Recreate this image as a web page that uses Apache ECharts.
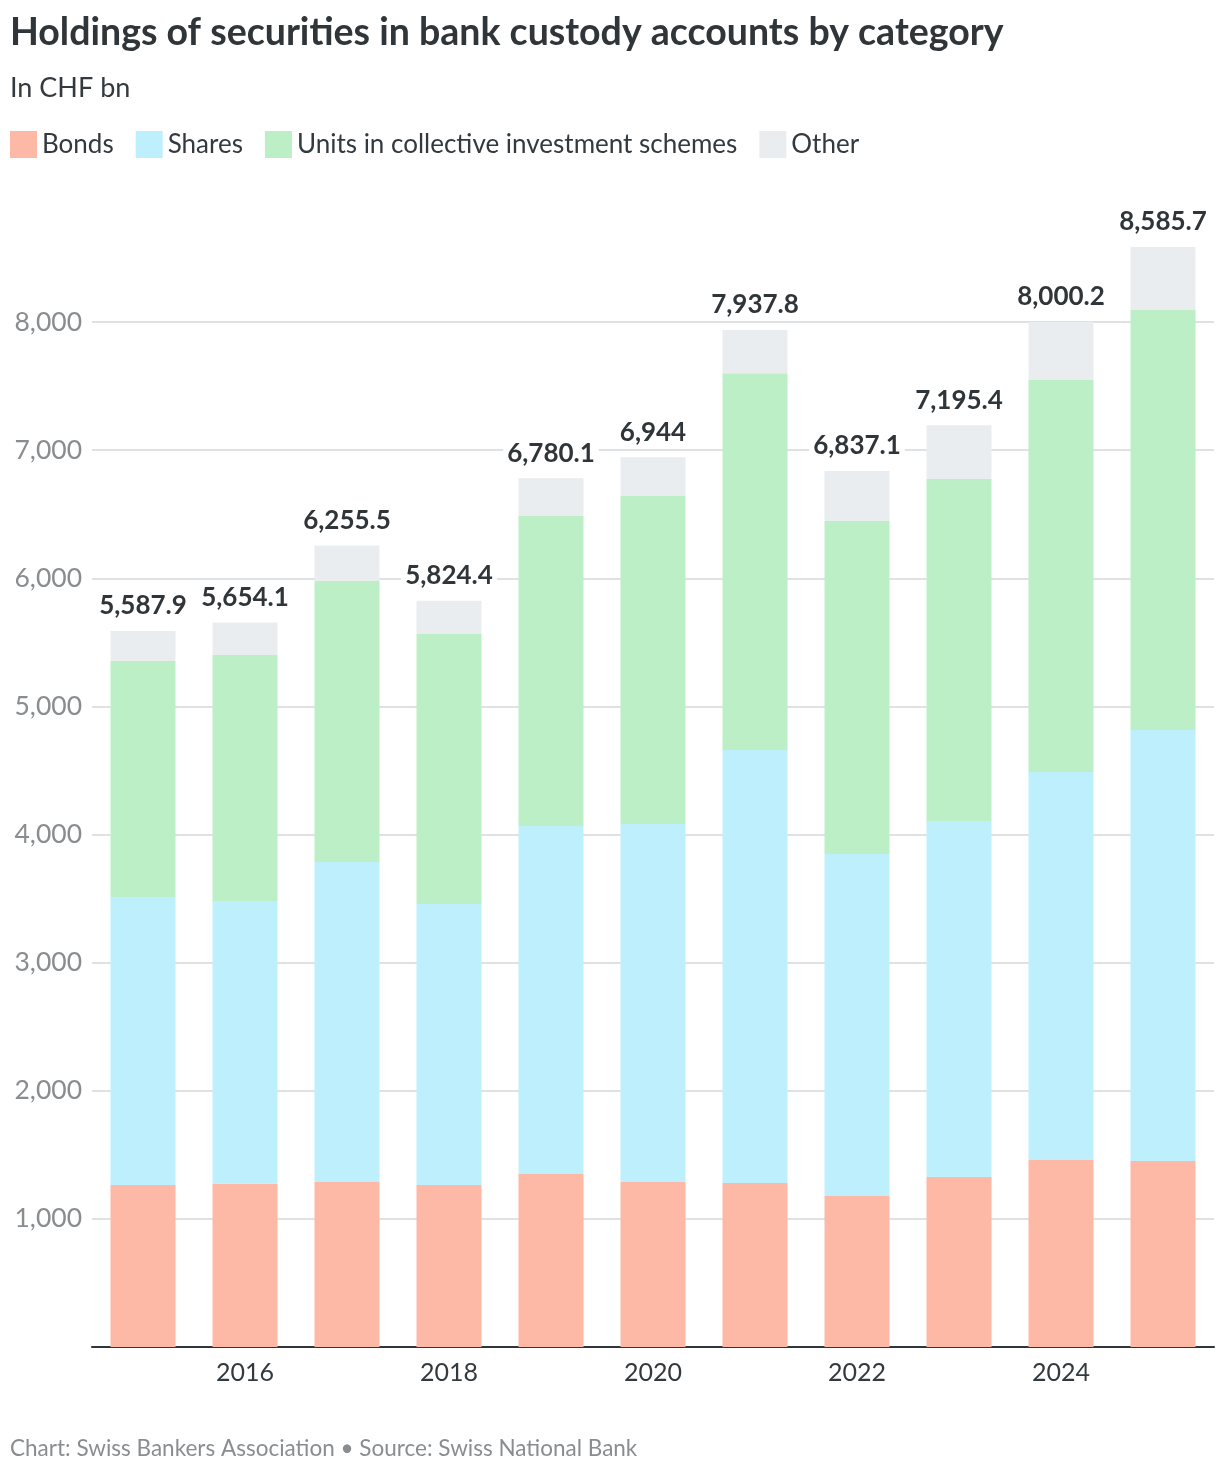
<!DOCTYPE html>
<html>
<head>
<meta charset="utf-8">
<script src="https://cdn.jsdelivr.net/npm/echarts@6/dist/echarts.min.js"></script>
<style>
  html, body { margin: 0; padding: 0; background: #fff; }
  #chart { width: 1220px; height: 1474px; }
</style>
</head>
<body>
<div id="chart"></div>
<script>
// data, CHF bn
const years = ['2015', '2016', '2017', '2018', '2019', '2020', '2021', '2022', '2023', '2024', '2025'];
const bonds = [1264, 1275, 1288, 1264, 1350, 1288, 1280, 1178, 1327, 1460, 1452];
const shares = [2243, 2206, 2497, 2194, 2716, 2794, 3380, 2670, 2778, 3028, 3364];
const units = [1847, 1920, 2194, 2107, 2420, 2560, 2940, 2599, 2670, 3059, 3278];
const other = [234, 253, 277, 259, 294, 302, 338, 390, 420, 453, 492];
const totals = [5587.9, 5654.1, 6255.5, 5824.4, 6780.1, 6944, 7937.8, 6837.1, 7195.4, 8000.2, 8585.7];
const yTicks = [0, 1000, 8000]; // min, step, max

const FONT = 'Lato';
const colors = {
  bonds: '#fdb8a6',
  shares: '#bdeffd',
  units: '#bcefc5',
  other: '#e9edf0'
};

const fmt = v => v.toLocaleString('en-US', { maximumFractionDigits: 1 });

const chart = echarts.init(document.getElementById('chart'), null, { renderer: 'canvas' });

function barSeries(name, data, color, extra) {
  return Object.assign({
    name: name,
    type: 'bar',
    stack: 'total',
    data: data,
    barWidth: 65,
    clip: false,
    itemStyle: { color: color },
    emphasis: { disabled: true }
  }, extra || {});
}

const option = {
  animation: false,
  textStyle: { fontFamily: FONT },
  title: [
    {
      text: 'Holdings of securities in bank custody accounts by category',
      left: 10, top: 14, padding: 0,
      textStyle: { fontFamily: FONT, fontSize: 37.5, fontWeight: 'bold', color: '#2f3538' }
    },
    {
      text: 'In CHF bn',
      left: 10, top: 75, padding: 0,
      textStyle: { fontFamily: FONT, fontSize: 27, fontWeight: 'normal', color: '#333a3f' }
    },
    {
      text: 'Chart: Swiss Bankers Association \u2022 Source: Swiss National Bank',
      left: 10, top: 1437, padding: 0,
      textStyle: { fontFamily: FONT, fontSize: 22.5, fontWeight: 'normal', color: '#8a8d90' }
    }
  ],
  legend: {
    left: 10, top: 131, padding: 0,
    icon: 'rect',
    itemWidth: 27, itemHeight: 27,
    itemGap: 22,
    selectedMode: false,
    textStyle: { fontFamily: FONT, fontSize: 26, color: '#333a3f' },
    data: ['Bonds', 'Shares', 'Units in collective investment schemes', 'Other']
  },
  grid: {
    left: 92, right: 6, top: 322, bottom: 127,
    containLabel: false
  },
  xAxis: {
    type: 'category',
    data: years,
    axisLine: { lineStyle: { color: '#2f3538', width: 2 } },
    axisTick: { show: false },
    axisLabel: {
      interval: i => i % 2 === 1,
      margin: 13,
      fontFamily: FONT, fontSize: 25, color: '#333a3f'
    }
  },
  yAxis: {
    type: 'value',
    min: yTicks[0], interval: yTicks[1], max: yTicks[2],
    axisLine: { show: false },
    axisTick: { show: false },
    axisLabel: {
      margin: 10,
      fontFamily: FONT, fontSize: 26.5, color: '#8a8d90',
      formatter: v => v === 0 ? '' : fmt(v)
    },
    splitLine: { lineStyle: { color: '#d5d8dc', width: 1.5 } }
  },
  series: [
    barSeries('Bonds', bonds, colors.bonds),
    barSeries('Shares', shares, colors.shares),
    barSeries('Units in collective investment schemes', units, colors.units),
    barSeries('Other', other, colors.other, {
      label: {
        show: true,
        position: 'top',
        distance: 12,
        formatter: p => fmt(totals[p.dataIndex]),
        fontFamily: FONT, fontSize: 26, fontWeight: 'bold', color: '#2f3538',
        backgroundColor: '#fff',
        padding: [0, 4]
      }
    })
  ]
};

chart.setOption(option);
</script>
</body>
</html>
